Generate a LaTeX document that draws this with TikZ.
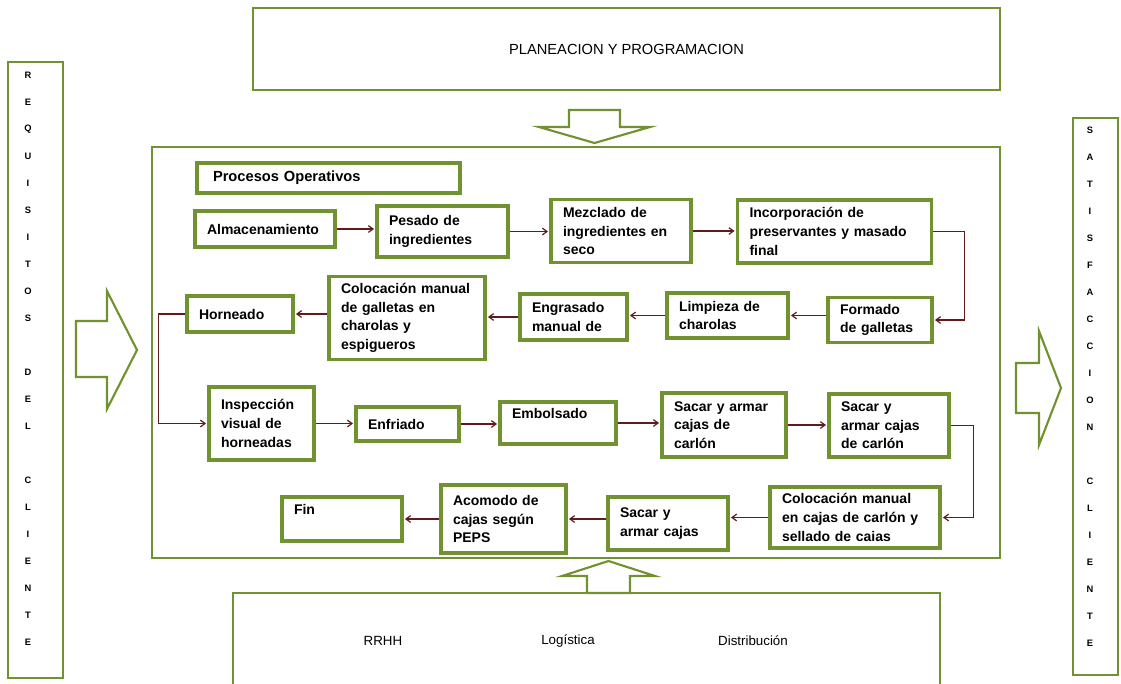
\documentclass[tikz,border=0pt]{standalone}
\usepackage{fontspec}
\setmainfont{Liberation Sans}
\usetikzlibrary{arrows.meta}
\definecolor{verde}{RGB}{112,146,48}
\definecolor{guinda}{RGB}{96,28,28}
\hyphenpenalty=10000
\tikzset{
    caja/.style 2 args={draw=verde, line width=2.4pt, minimum width=#1*0.75pt, minimum height=#2*0.75pt,
        text width=(#1-24)*0.75pt, inner xsep=9pt, inner ysep=2pt, align=left,
        font=\fontsize{10.5}{14}\selectfont\bfseries},
    marco/.style={draw=verde, line width=1.8pt},
    bloque/.style={draw=verde, line width=1.6pt, line join=miter},
    flujo/.style={draw=guinda, line width=0.9pt, shorten >=1pt, -{Straight Barb[length=3.5pt,width=5pt]}},
    letra/.style={font=\fontsize{7}{8}\selectfont\bfseries, inner sep=0pt},
    texto/.style={font=\fontsize{10}{12}\selectfont}
}
\begin{document}
\begin{tikzpicture}[x=0.75pt,y=-0.75pt]
    \useasboundingbox (0,0) rectangle (1121,683);

    % marcos exteriores
    \node[marco, texto, font=\fontsize{11}{13}\selectfont, minimum width=747*0.75pt, minimum height=82*0.75pt] (plan) at (626.5,49) {PLANEACION Y PROGRAMACION};
    \node[marco, minimum width=55*0.75pt, minimum height=616*0.75pt] (requisitos) at (35.5,370) {};
    \node[marco, minimum width=45*0.75pt, minimum height=557*0.75pt] (satisfaccion) at (1095.5,396.5) {};
    \draw[marco] (152,147) rectangle (1000,558);
    \draw[marco] (233,690) |- (940,593) -- (940,690);

    \foreach \letra [count=\i] in {R,E,Q,U,I,S,I,T,O,S,,D,E,L,,C,L,I,E,N,T,E}
        \node[letra] (req\i) at (28,{75+(\i-1)*27}) {\letra};
    \foreach \letra [count=\i] in {S,A,T,I,S,F,A,C,C,I,O,N,,C,L,I,E,N,T,E}
        \node[letra] (sat\i) at (1090,{130+(\i-1)*27}) {\letra};

    \node[texto] (rrhh) at (383,641) {RRHH};
    \node[texto] (logistica) at (568,641) {Logística};
    \node[texto] (distribucion) at (753,641) {Distribución};

    % flechas de bloque
    \draw[bloque] (76,321) -- (107,321) -- (107,291) -- (137,350) -- (107,409) -- (107,377) -- (76,377) -- cycle;
    \draw[bloque] (1016,363) -- (1039,363) -- (1039,331) -- (1061,388) -- (1039,445) -- (1039,413) -- (1016,413) -- cycle;
    \draw[bloque] (569,110) -- (620,110) -- (620,127) -- (650,127) -- (594.5,143) -- (539,127) -- (569,127) -- cycle;
    \draw[bloque] (587,593) -- (587,576) -- (562,576) -- (608.5,561) -- (655,576) -- (630,576) -- (630,593) -- cycle;

    % procesos operativos
    \node[caja={263}{30}, inner xsep=12pt, text width=(263-32)*0.75pt, font=\fontsize{11}{13}\selectfont\bfseries] (procesos) at (328.5,178) {Procesos Operativos};

    \node[caja={140}{36}] (alm) at (265,229) {Almacenamiento};
    \node[caja={131}{51}] (pesado) at (442.5,231.5) {Pesado de\\ingredientes};
    \node[caja={140}{63}] (mezclado) at (621,231) {Mezclado de\\ingredientes en\\seco};
    \node[caja={194}{63}] (incorp) at (834.5,231.5) {Incorporación de\\preservantes y masado\\final};

    \node[caja={104}{45}] (formado) at (880,320) {Formado\\de galletas};
    \node[caja={121}{45}] (limpieza) at (727.5,315.5) {Limpieza de\\charolas};
    \node[caja={107}{46}] (engrasado) at (573.5,317) {Engrasado\\manual de};
    \node[caja={156}{83}] (coloc) at (407,318) {Colocación manual\\de galletas en\\charolas y\\espigueros};
    \node[caja={106}{36}] (horneado) at (240,314) {Horneado};

    \node[caja={105}{73}] (insp) at (261.5,423.5) {Inspección\\visual de\\horneadas};
    \node[caja={103}{34}] (enfriado) at (407.5,424) {Enfriado};
    \node[caja={116}{42}] (embolsado) at (558,423) {Embolsado\\\mbox{}};
    \node[caja={124}{64}] (sacarA) at (724,425) {Sacar y armar\\cajas de\\carlón};
    \node[caja={120}{63}] (sacarB) at (889,425.5) {Sacar y\\armar cajas\\de carlón};

    \node[caja={170}{61}] (colocB) at (855,517.5) {Colocación manual\\en cajas de carlón y\\sellado de caias};
    \node[caja={120}{53}] (sacarC) at (668,523.5) {Sacar y\\armar cajas};
    \node[caja={125}{68}] (acomodo) at (503.5,519) {Acomodo de\\cajas según\\PEPS};
    \node[caja={120}{44}] (fin) at (342,519) {Fin\\\mbox{}};

    % conectores
    \draw[flujo] (alm.east) -- (alm.east -| pesado.west);
    \draw[flujo] (pesado.east) -- (pesado.east -| mezclado.west);
    \draw[flujo] (mezclado.east) -- (mezclado.east -| incorp.west);
    \draw[flujo] (incorp.east) -- ++(31,0) |- (formado.east);
    \draw[flujo] (formado.west |- limpieza.east) -- (limpieza.east);
    \draw[flujo] (limpieza.west) -- (limpieza.west -| engrasado.east);
    \draw[flujo] (engrasado.west) -- (engrasado.west -| coloc.east);
    \draw[flujo] (coloc.west |- horneado.east) -- (horneado.east);
    \draw[flujo] (horneado.west) -- ++(-27,0) |- (insp.west);
    \draw[flujo] (insp.east) -- (insp.east -| enfriado.west);
    \draw[flujo] (enfriado.east) -- (enfriado.east -| embolsado.west);
    \draw[flujo] (embolsado.east) -- (embolsado.east -| sacarA.west);
    \draw[flujo] (sacarA.east) -- (sacarA.east -| sacarB.west);
    \draw[flujo] (sacarB.east) -- ++(23,0) |- (colocB.east);
    \draw[flujo] (colocB.west) -- (colocB.west -| sacarC.east);
    \draw[flujo] (sacarC.west |- acomodo.east) -- (acomodo.east);
    \draw[flujo] (acomodo.west) -- (acomodo.west -| fin.east);
\end{tikzpicture}
\end{document}
